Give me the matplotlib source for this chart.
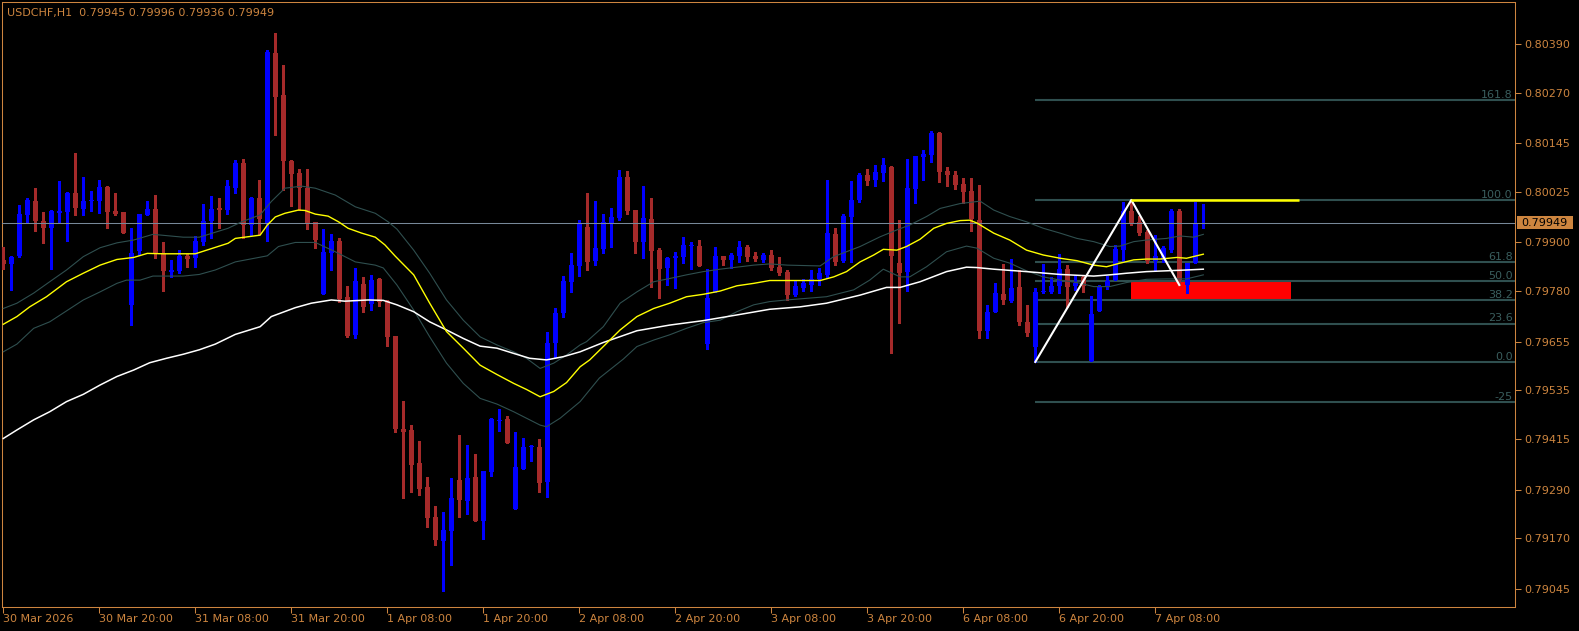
import matplotlib
matplotlib.use("Agg")
import matplotlib.pyplot as plt
import matplotlib.transforms as mtransforms
from matplotlib.patches import Rectangle

W, H = 1579, 631
PERU = "#CD853F"
BULL = "#0000FF"
BEAR = "#A52A2A"
FIBC = "#2F4F4F"
BANDC = "#2F4F4F"
FS = 8

header = "USDCHF,H1  0.79945 0.79996 0.79936 0.79949"

opens = [0.79857, 0.79847, 0.79866, 0.79968, 0.80002, 0.79953, 0.79936, 0.79973, 0.79976, 0.80023,
         0.79983, 0.80002, 0.80002, 0.80037, 0.79978, 0.79975, 0.79746, 0.79879, 0.79968, 0.79983,
         0.79873, 0.79828, 0.79830, 0.79867, 0.79861, 0.79902, 0.79954, 0.79985, 0.79980, 0.80034,
         0.80096, 0.79943, 0.80010, 0.79948, 0.80368, 0.80264, 0.80101, 0.80072, 0.80034, 0.79950,
         0.79772, 0.79875, 0.79904, 0.79765, 0.79672, 0.79797, 0.79747, 0.79810, 0.79755, 0.79669,
         0.79439, 0.79437, 0.79355, 0.79295, 0.79223, 0.79164, 0.79188, 0.79314, 0.79262, 0.79322,
         0.79212, 0.79334, 0.79459, 0.79464, 0.79241, 0.79341, 0.79394, 0.79395, 0.79309, 0.79651,
         0.79725, 0.79803, 0.79843, 0.79938, 0.79854, 0.79884, 0.79946, 0.79961, 0.80062, 0.79980,
         0.79902, 0.79958, 0.79881, 0.79838, 0.79862, 0.79864, 0.79891, 0.79891, 0.79650, 0.79778,
         0.79866, 0.79857, 0.79867, 0.79889, 0.79866, 0.79857, 0.79869, 0.79839, 0.79827, 0.79770,
         0.79788, 0.79795, 0.79809, 0.79820, 0.79922, 0.79854, 0.79963, 0.80005, 0.80067, 0.80054,
         0.80072, 0.80086, 0.79849, 0.79827, 0.80032, 0.80111, 0.80116, 0.80171, 0.80076, 0.80067,
         0.80044, 0.80027, 0.79955, 0.79681, 0.79729, 0.79773, 0.79755, 0.79790, 0.79704, 0.79642,
         0.79778, 0.79778, 0.79793, 0.79834, 0.79793, 0.79815, 0.79607, 0.79731, 0.79790, 0.79807,
         0.79881, 0.79978, 0.79951, 0.79926, 0.79854, 0.79857, 0.79881, 0.79978, 0.79795, 0.79849,
         0.79945]

highs = [0.79888, 0.79866, 0.79992, 0.80010, 0.80034, 0.79975, 0.79980, 0.80051, 0.80025, 0.80121,
         0.80062, 0.80027, 0.80054, 0.80039, 0.80022, 0.79975, 0.79935, 0.79970, 0.80002, 0.80017,
         0.79901, 0.79857, 0.79881, 0.79871, 0.79915, 0.79994, 0.80014, 0.80010, 0.80054, 0.80104,
         0.80105, 0.80012, 0.80054, 0.80375, 0.80418, 0.80338, 0.80104, 0.80081, 0.80081, 0.79950,
         0.79933, 0.79920, 0.79910, 0.79793, 0.79836, 0.79815, 0.79820, 0.79812, 0.79758, 0.79669,
         0.79509, 0.79449, 0.79410, 0.79321, 0.79249, 0.79235, 0.79319, 0.79425, 0.79400, 0.79378,
         0.79336, 0.79467, 0.79490, 0.79471, 0.79433, 0.79417, 0.79400, 0.79415, 0.79680, 0.79737,
         0.79817, 0.79875, 0.79955, 0.80023, 0.80002, 0.79970, 0.79985, 0.80079, 0.80076, 0.79980,
         0.80039, 0.80010, 0.79886, 0.79864, 0.79876, 0.79914, 0.79902, 0.79907, 0.79834, 0.79889,
         0.79866, 0.79874, 0.79904, 0.79894, 0.79876, 0.79874, 0.79881, 0.79865, 0.79832, 0.79807,
         0.79809, 0.79832, 0.79836, 0.80054, 0.79936, 0.79970, 0.80052, 0.80072, 0.80081, 0.80091,
         0.80109, 0.80089, 0.79955, 0.80106, 0.80113, 0.80128, 0.80175, 0.80173, 0.80086, 0.80076,
         0.80059, 0.80059, 0.80043, 0.79746, 0.79801, 0.79847, 0.79859, 0.79832, 0.79746, 0.79788,
         0.79847, 0.79815, 0.79871, 0.79844, 0.79820, 0.79820, 0.79768, 0.79795, 0.79817, 0.79894,
         0.80000, 0.80005, 0.79965, 0.79931, 0.79918, 0.79891, 0.79983, 0.79983, 0.79849, 0.80000,
         0.79996]

lows = [0.79834, 0.79783, 0.79863, 0.79947, 0.79929, 0.79899, 0.79835, 0.79949, 0.79904, 0.79968,
        0.79968, 0.79978, 0.79973, 0.79936, 0.79968, 0.79923, 0.79697, 0.79869, 0.79968, 0.79862,
        0.79781, 0.79815, 0.79824, 0.79840, 0.79840, 0.79894, 0.79912, 0.79936, 0.79970, 0.80023,
        0.79912, 0.79918, 0.79921, 0.79904, 0.80165, 0.80030, 0.79990, 0.79980, 0.79933, 0.79887,
        0.79772, 0.79832, 0.79752, 0.79667, 0.79663, 0.79729, 0.79733, 0.79744, 0.79644, 0.79431,
        0.79268, 0.79285, 0.79276, 0.79198, 0.79153, 0.79040, 0.79104, 0.79221, 0.79230, 0.79212,
        0.79168, 0.79324, 0.79434, 0.79404, 0.79241, 0.79341, 0.79361, 0.79285, 0.79272, 0.79618,
        0.79715, 0.79778, 0.79818, 0.79832, 0.79844, 0.79875, 0.79889, 0.79955, 0.79970, 0.79875,
        0.79862, 0.79791, 0.79764, 0.79795, 0.79788, 0.79850, 0.79834, 0.79843, 0.79637, 0.79778,
        0.79845, 0.79838, 0.79852, 0.79854, 0.79854, 0.79852, 0.79832, 0.79820, 0.79758, 0.79768,
        0.79780, 0.79780, 0.79795, 0.79812, 0.79844, 0.79852, 0.79852, 0.80001, 0.80042, 0.80039,
        0.80052, 0.79626, 0.79702, 0.79780, 0.79997, 0.80054, 0.80099, 0.80049, 0.80039, 0.80032,
        0.79997, 0.79928, 0.79663, 0.79665, 0.79729, 0.79748, 0.79753, 0.79696, 0.79669, 0.79605,
        0.79775, 0.79775, 0.79775, 0.79741, 0.79783, 0.79778, 0.79607, 0.79731, 0.79785, 0.79807,
        0.79852, 0.79943, 0.79918, 0.79849, 0.79832, 0.79852, 0.79876, 0.79795, 0.79775, 0.79849,
        0.79936]

closes = [0.79847, 0.79863, 0.79970, 0.80005, 0.79953, 0.79936, 0.79978, 0.79978, 0.80023, 0.79986,
          0.80002, 0.80005, 0.80037, 0.79976, 0.79970, 0.79924, 0.79873, 0.79970, 0.79982, 0.79873,
          0.79830, 0.79832, 0.79867, 0.79859, 0.79904, 0.79953, 0.79983, 0.79981, 0.80039, 0.80096,
          0.79943, 0.80010, 0.79959, 0.80370, 0.80260, 0.80102, 0.80069, 0.80034, 0.79949, 0.79906,
          0.79876, 0.79904, 0.79760, 0.79670, 0.79805, 0.79741, 0.79807, 0.79752, 0.79667, 0.79439,
          0.79433, 0.79350, 0.79291, 0.79220, 0.79165, 0.79190, 0.79270, 0.79264, 0.79319, 0.79212,
          0.79336, 0.79464, 0.79462, 0.79406, 0.79345, 0.79395, 0.79396, 0.79307, 0.79651, 0.79725,
          0.79805, 0.79844, 0.79946, 0.79852, 0.79886, 0.79950, 0.79963, 0.80062, 0.79978, 0.79902,
          0.79960, 0.79880, 0.79835, 0.79862, 0.79866, 0.79894, 0.79894, 0.79843, 0.79763, 0.79866,
          0.79857, 0.79869, 0.79889, 0.79864, 0.79859, 0.79869, 0.79837, 0.79824, 0.79770, 0.79793,
          0.79801, 0.79810, 0.79825, 0.79923, 0.79852, 0.79966, 0.80005, 0.80067, 0.80052, 0.80074,
          0.80091, 0.79866, 0.79825, 0.80034, 0.80113, 0.80119, 0.80170, 0.80074, 0.80067, 0.80042,
          0.80025, 0.79958, 0.79681, 0.79728, 0.79775, 0.79758, 0.79788, 0.79704, 0.79676, 0.79778,
          0.79780, 0.79793, 0.79834, 0.79790, 0.79800, 0.79793, 0.79723, 0.79790, 0.79805, 0.79884,
          0.79978, 0.79948, 0.79923, 0.79854, 0.79866, 0.79886, 0.79978, 0.79807, 0.79849, 0.79946,
          0.79949]

# moving average (yellow), envelope bands, slow MA (white): (bar index, price)
ma_fast = [(0, 0.79698), (1.7, 0.79717), (3.3, 0.79741), (5.4, 0.79766), (7.9, 0.79803), (10, 0.79824),
           (12.1, 0.79844), (14.2, 0.79858), (16.3, 0.79863), (18, 0.79873), (20, 0.79872), (24, 0.79872),
           (28.1, 0.79898), (29, 0.79910), (32.1, 0.79918), (33, 0.79943), (34, 0.79963), (35.2, 0.79972),
           (36.9, 0.79980), (37.7, 0.79979), (39, 0.79970), (40.6, 0.79965), (41.9, 0.79951), (43.1, 0.79935),
           (44.8, 0.79923), (46.5, 0.79913), (47.7, 0.79894), (49, 0.79866), (51.3, 0.79820), (53.3, 0.79750),
           (55.4, 0.79680), (57.5, 0.79639), (59.6, 0.79597), (61.7, 0.79574), (63.8, 0.79552), (65.4, 0.79537),
           (67.1, 0.79519), (68.8, 0.79532), (70.4, 0.79554), (72.1, 0.79593), (73.3, 0.79610), (75, 0.79643),
           (77.1, 0.79684), (79.2, 0.79717), (81.3, 0.79737), (83.3, 0.79750), (85.4, 0.79766), (87.5, 0.79772),
           (89.6, 0.79780), (91.7, 0.79793), (93.8, 0.79799), (95.8, 0.79806), (98.8, 0.79806), (102.1, 0.79806),
           (103.8, 0.79815), (105.4, 0.79828), (107.1, 0.79852), (108.8, 0.79869), (110, 0.79883), (111.7, 0.79881),
           (112.9, 0.79890), (114.6, 0.79908), (116.3, 0.79935), (117.9, 0.79947), (119.6, 0.79954), (120.8, 0.79955),
           (121.7, 0.79948), (123.8, 0.79923), (125.8, 0.79906), (127.9, 0.79881), (130, 0.79869), (132.1, 0.79861),
           (134.2, 0.79855), (136.3, 0.79844), (137.9, 0.79840), (139.6, 0.79849), (141.3, 0.79857), (142.9, 0.79859),
           (144.6, 0.79859), (146.7, 0.79863), (147.9, 0.79861), (150, 0.79871)]

band_upper = [(0, 0.79737), (1.7, 0.79750), (3.8, 0.79775), (5.8, 0.79803), (7.9, 0.79832), (10, 0.79865),
              (12.1, 0.79887), (14.2, 0.79899), (16.3, 0.79906), (18.7, 0.79920), (22.5, 0.79913), (24.5, 0.79913),
              (28.1, 0.79935), (29.8, 0.79951), (32.1, 0.79968), (33.5, 0.80001), (35.2, 0.80034), (37.3, 0.80039),
              (39, 0.80034), (41.5, 0.80017), (44, 0.79988), (46.5, 0.79972), (48.1, 0.79951), (49.2, 0.79933),
              (51.3, 0.79881), (53.3, 0.79824), (55.4, 0.79758), (57.5, 0.79708), (59.6, 0.79667), (61.7, 0.79647),
              (63.8, 0.79630), (65.4, 0.79614), (67.1, 0.79589), (68.8, 0.79602), (70.4, 0.79622), (72.1, 0.79647),
              (72.9, 0.79655), (75, 0.79692), (77.1, 0.79750), (79.2, 0.79778), (81.3, 0.79803), (83.3, 0.79811),
              (85.4, 0.79820), (87.5, 0.79828), (89.6, 0.79834), (91.7, 0.79839), (93.8, 0.79844), (95.8, 0.79847),
              (98, 0.79844), (102.1, 0.79842), (103.8, 0.79865), (107.1, 0.79890), (109.6, 0.79914), (111.7, 0.79931),
              (113.3, 0.79943), (115.4, 0.79964), (117.1, 0.79984), (119.6, 0.79996), (122.1, 0.80002), (123.8, 0.79980),
              (125.8, 0.79964), (127.9, 0.79951), (130, 0.79935), (132.1, 0.79923), (134.2, 0.79910), (136.3, 0.79902),
              (138.3, 0.79890), (139.6, 0.79891), (141.3, 0.79902), (142.9, 0.79906), (145.4, 0.79910), (147.1, 0.79916),
              (148.8, 0.79913), (150, 0.79920)]

band_lower = [(0, 0.79630), (1.7, 0.79649), (3.8, 0.79688), (5.8, 0.79704), (7.9, 0.79731), (10, 0.79758),
              (12.1, 0.79778), (14.2, 0.79799), (15.4, 0.79807), (17.1, 0.79807), (18.7, 0.79817), (22.5, 0.79817),
              (24.5, 0.79821), (26.5, 0.79832), (29, 0.79852), (33, 0.79867), (34.4, 0.79890), (36.5, 0.79900),
              (39, 0.79900), (41.5, 0.79877), (44, 0.79852), (46.5, 0.79844), (47.5, 0.79837), (49.2, 0.79795),
              (51.3, 0.79733), (53.3, 0.79667), (55.4, 0.79602), (57.5, 0.79552), (59.6, 0.79515), (61.7, 0.79501),
              (63.8, 0.79482), (65.4, 0.79466), (67.1, 0.79449), (67.9, 0.79445), (69.6, 0.79466), (72.1, 0.79507),
              (74.5, 0.79565), (77.5, 0.79612), (79.2, 0.79643), (81.3, 0.79659), (83.3, 0.79672), (85.4, 0.79688),
              (87.5, 0.79702), (89.6, 0.79708), (91.7, 0.79729), (93.8, 0.79746), (95.8, 0.79754), (97.9, 0.79758),
              (102.9, 0.79766), (106.3, 0.79783), (108.3, 0.79807), (110, 0.79834), (112.1, 0.79815), (113.3, 0.79815),
              (115.4, 0.79840), (117.9, 0.79877), (120.4, 0.79891), (121.7, 0.79886), (123.8, 0.79861), (125.8, 0.79849),
              (127.9, 0.79830), (130, 0.79815), (132.1, 0.79807), (134.2, 0.79801), (136.3, 0.79791), (138.3, 0.79791),
              (140.4, 0.79801), (142.9, 0.79809), (145.4, 0.79810), (147.9, 0.79810), (150, 0.79820)]

ma_slow = [(0, 0.79416), (1.7, 0.79437), (3.8, 0.79462), (5.8, 0.79482), (7.9, 0.79507), (10, 0.79525),
           (12.1, 0.79548), (14.2, 0.79569), (16.3, 0.79585), (18.3, 0.79603), (20.4, 0.79614), (22.5, 0.79624),
           (24.5, 0.79635), (26.5, 0.79649), (29, 0.79673), (32.1, 0.79692), (33.5, 0.79717), (36.5, 0.79739),
           (38.5, 0.79750), (41, 0.79758), (42.7, 0.79755), (45.6, 0.79758), (47.5, 0.79757), (49.2, 0.79746),
           (51.3, 0.79729), (53.3, 0.79704), (55.4, 0.79684), (57.5, 0.79663), (59.6, 0.79644), (61.7, 0.79639),
           (63.8, 0.79626), (65.8, 0.79614), (67.9, 0.79610), (70, 0.79618), (72.1, 0.79630), (75, 0.79653),
           (79.2, 0.79682), (83.3, 0.79696), (87.5, 0.79707), (91.7, 0.79721), (95.8, 0.79735), (99.6, 0.79741),
           (102.9, 0.79750), (107.1, 0.79770), (110.4, 0.79789), (112.1, 0.79789), (114.6, 0.79803), (117.9, 0.79828),
           (120.4, 0.79839), (121.7, 0.79838), (123.8, 0.79834), (127.9, 0.79828), (132.1, 0.79821), (136.3, 0.79817),
           (138.3, 0.79820), (140.4, 0.79824), (142.9, 0.79828), (145.4, 0.79830), (147.9, 0.79832), (150, 0.79834)]

time_tick_bars = [0, 12, 24, 36, 48, 60, 72, 84, 96, 108, 120, 132, 144]
time_labels = ["30 Mar 2026", "30 Mar 20:00", "31 Mar 08:00", "31 Mar 20:00", "1 Apr 08:00",
               "1 Apr 20:00", "2 Apr 08:00", "2 Apr 20:00", "3 Apr 08:00", "3 Apr 20:00",
               "6 Apr 08:00", "6 Apr 20:00", "7 Apr 08:00"]
price_ticks = [0.80390, 0.80270, 0.80145, 0.80025, 0.79900, 0.79780,
               0.79655, 0.79535, 0.79415, 0.79290, 0.79170, 0.79045]

fib_low, fib_high = 0.79605, 0.80005
fib_anchor_bar = 129
fib_levels = [1.618, 1.0, 0.618, 0.5, 0.382, 0.236, 0.0, -0.25]
fib_labels = ["161.8", "100.0", "61.8", "50.0", "38.2", "23.6", "0.0", "-25"]

zigzag_bars = [129, 141, 147]
zigzag_prices = [0.79605, 0.80005, 0.79795]

high_line_bars = (141, 162)
high_line_price = 0.80005
zone_bars = (141, 161)
zone_prices = (0.79760, 0.79803)

# ------------------------------------------------------------------
fig = plt.figure(figsize=(W / 100, H / 100), dpi=100, facecolor="black")
ax = fig.add_axes([2 / W, 1 - 607 / H, 1513 / W, 605 / H], facecolor="black")
ax.set_xlim(-0.1625, 188.96)
ax.set_ylim(0.789999, 0.804937)

# zone rectangle
ax.add_patch(Rectangle((zone_bars[0], zone_prices[0]), zone_bars[1] - zone_bars[0],
                       zone_prices[1] - zone_prices[0], facecolor="#FF0000", edgecolor="none", zorder=1))

# fibonacci
xmax = ax.get_xlim()[1]
for lv, lab in zip(fib_levels, fib_labels):
    p = fib_low + lv * (fib_high - fib_low)
    ax.hlines(p, fib_anchor_bar, xmax, color=FIBC, lw=1.5, zorder=2)
    ax.annotate(lab, xy=(1, p), xycoords=("axes fraction", "data"), xytext=(-1.5, 1.6),
                textcoords="offset points", ha="right", va="baseline", color="#3A5E5E",
                fontsize=FS, zorder=2)

# candles
min_h = 0.000025
for i, (o, h, l, c) in enumerate(zip(opens, highs, lows, closes)):
    col = BULL if c >= o else BEAR
    ax.vlines(i, l, h, color=col, lw=0.75, zorder=3, antialiased=False)
    ax.bar(i, max(abs(c - o), min_h), bottom=min(o, c), width=0.7, color=col,
           linewidth=0, zorder=3, antialiased=False)

# bid line
ax.axhline(closes[-1], color="#778899", lw=0.75, zorder=4)

# indicators
for data, col, lw in [(band_upper, BANDC, 0.8), (band_lower, BANDC, 0.8),
                      (ma_slow, "white", 1.1), (ma_fast, "#FFFF00", 1.0)]:
    ax.plot([d[0] for d in data], [d[1] for d in data], color=col, lw=lw, zorder=5)

# zigzag and high line
ax.plot(zigzag_bars, zigzag_prices, color="white", lw=1.5, zorder=6)
ax.hlines(high_line_price, high_line_bars[0], high_line_bars[1], color="#FFFF00", lw=1.8, zorder=6)

# axes styling
for s in ax.spines.values():
    s.set_color(PERU)
    s.set_linewidth(0.75)
ax.yaxis.tick_right()
ax.set_yticks(price_ticks)
ax.set_yticklabels([f"{p:.5f}" for p in price_ticks])
ax.tick_params(axis="y", colors=PERU, length=4, width=0.75, direction="out", pad=3, labelsize=FS)
ax.set_xticks(time_tick_bars)
ax.set_xticklabels(time_labels, ha="left")
ax.tick_params(axis="x", colors=PERU, length=4, width=0.75, direction="out", pad=1.2, labelsize=FS)

# price label box
fig.canvas.draw()
yd = ax.transData.transform((0, closes[-1]))[1]
fig.add_artist(Rectangle((1516.5, yd - 6.5), 56, 13, facecolor=PERU, edgecolor="none",
                         transform=mtransforms.IdentityTransform()))
fig.text(1521 / W, yd / H, f"{closes[-1]:.5f}", color="black", fontsize=FS, va="center", ha="left")

fig.text(7 / W, 1 - 13 / H, header, color=PERU, fontsize=FS, va="center", ha="left")

fig.savefig("out.png", dpi=100, facecolor="black")
